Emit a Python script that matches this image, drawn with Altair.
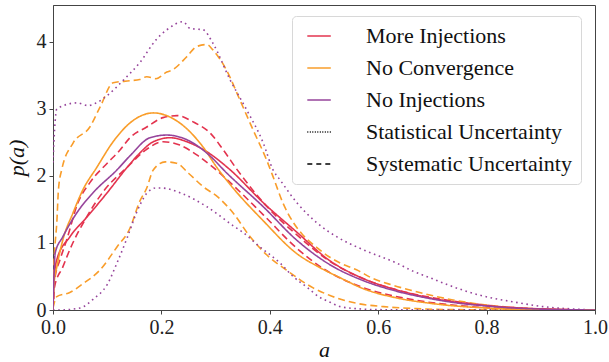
import altair as alt
import pandas as pd

RED = "#e3334e"
ORANGE = "#f99d2a"
PURPLE = "#96449b"

series_names = ["More Injections", "No Convergence", "No Injections"]
legend_keys = ["More Injections", "No Convergence", "No Injections",
               "Statistical Uncertainty", "Systematic Uncertainty"]

x_ticks = [0.0, 0.2, 0.4, 0.6, 0.8, 1.0]
y_ticks = [0, 1, 2, 3, 4]

# ---- More Injections ----
more_a = [0, 0.002, 0.007, 0.031, 0.063, 0.1, 0.137, 0.16, 0.185, 0.216, 0.247, 0.284,
          0.327, 0.388, 0.45, 0.51, 0.572, 0.634, 0.696, 0.75, 0.8, 0.85, 0.9, 0.95, 1.0]
more_p = [0, 0.45, 0.75, 1.09, 1.39, 1.75, 2.13, 2.34, 2.51, 2.57, 2.51, 2.36,
          2.09, 1.6, 1.16, 0.74, 0.47, 0.3, 0.18, 0.11, 0.065, 0.035, 0.015, 0.005, 0]

more_sys_hi_a = [0, 0.003, 0.013, 0.025, 0.046, 0.068, 0.1, 0.124, 0.142, 0.173, 0.203,
                 0.229, 0.26, 0.29, 0.314, 0.34, 0.395, 0.45, 0.51, 0.572, 0.634, 0.696,
                 0.75, 0.8, 0.85, 0.9, 0.95, 1.0]
more_sys_hi_p = [0, 0.45, 0.75, 1.04, 1.6, 1.9, 2.19, 2.39, 2.57, 2.73, 2.87,
                 2.9, 2.8, 2.64, 2.39, 2.09, 1.54, 1.12, 0.73, 0.47, 0.3, 0.19,
                 0.12, 0.07, 0.035, 0.015, 0.005, 0]

more_sys_lo_a = [0, 0.003, 0.018, 0.031, 0.063, 0.096, 0.137, 0.17, 0.203, 0.234, 0.266,
                 0.295, 0.327, 0.388, 0.45, 0.498, 0.524, 0.585, 0.646, 0.708, 0.75, 0.8,
                 0.85, 0.9, 0.95, 1.0]
more_sys_lo_p = [0, 0.35, 0.64, 0.9, 1.4, 1.8, 2.13, 2.38, 2.51, 2.46, 2.31,
                 2.13, 1.9, 1.42, 0.92, 0.62, 0.5, 0.3, 0.18, 0.1, 0.065, 0.035,
                 0.018, 0.007, 0.002, 0]

# ---- No Convergence ----
conv_a = [0, 0.002, 0.007, 0.018, 0.037, 0.055, 0.081, 0.11, 0.142, 0.185, 0.234, 0.277,
          0.302, 0.327, 0.388, 0.45, 0.493, 0.53, 0.572, 0.634, 0.696, 0.75, 0.8, 0.85,
          0.9, 1.0]
conv_p = [0, 0.4, 0.64, 1.04, 1.45, 1.79, 2.13, 2.5, 2.79, 2.94, 2.79, 2.43,
          2.13, 1.87, 1.33, 0.84, 0.63, 0.48, 0.32, 0.18, 0.1, 0.055, 0.03, 0.012,
          0.004, 0]

conv_sys_hi_a = [0, 0.004, 0.007, 0.01, 0.016, 0.037, 0.068, 0.087, 0.111, 0.142, 0.16,
                 0.173, 0.19, 0.21, 0.22, 0.247, 0.265, 0.284, 0.295, 0.32, 0.345, 0.369,
                 0.394, 0.406, 0.424, 0.443, 0.461, 0.487, 0.51, 0.53, 0.56, 0.59, 0.627,
                 0.653, 0.708, 0.738, 0.8, 0.86, 0.92, 1.0]
conv_sys_hi_p = [0.5, 1.0, 1.3, 1.79, 2.09, 2.49, 2.73, 3.03, 3.39, 3.42, 3.44,
                 3.48, 3.45, 3.55, 3.58, 3.78, 3.93, 3.96, 3.88, 3.58, 3.13, 2.69,
                 2.24, 1.99, 1.6, 1.31, 1.12, 0.93, 0.79, 0.7, 0.6, 0.47, 0.37,
                 0.31, 0.2, 0.15, 0.075, 0.03, 0.01, 0]

conv_sys_lo_a = [0, 0.007, 0.031, 0.055, 0.087, 0.118, 0.142, 0.16, 0.173, 0.185, 0.207,
                 0.228, 0.25, 0.277, 0.305, 0.332, 0.363, 0.4, 0.43, 0.456, 0.48, 0.51,
                 0.56, 0.61, 0.67, 0.75, 1.0]
conv_sys_lo_p = [0.03, 0.2, 0.26, 0.39, 0.6, 0.94, 1.22, 1.62, 1.82, 2.09, 2.21,
                 2.19, 2.04, 1.84, 1.68, 1.45, 1.1, 0.78, 0.6, 0.45, 0.33, 0.22,
                 0.1, 0.05, 0.02, 0.005, 0]

# ---- No Injections ----
noinj_a = [0, 0.002, 0.004, 0.018, 0.044, 0.074, 0.118, 0.142, 0.179, 0.21, 0.247, 0.284,
           0.321, 0.388, 0.45, 0.51, 0.572, 0.634, 0.696, 0.75, 0.8, 0.85, 0.9, 0.95, 1.0]
noinj_p = [0, 0.55, 0.85, 1.09, 1.45, 1.75, 2.09, 2.3, 2.57, 2.61, 2.54, 2.34,
           2.04, 1.54, 1.04, 0.68, 0.44, 0.28, 0.17, 0.1, 0.06, 0.03, 0.013, 0.004, 0]

noinj_stat_hi_a = [0, 0.003, 0.007, 0.044, 0.065, 0.08, 0.1, 0.13, 0.16, 0.19, 0.21,
                   0.24, 0.253, 0.277, 0.295, 0.327, 0.357, 0.388, 0.406, 0.419, 0.45,
                   0.487, 0.524, 0.572, 0.634, 0.664, 0.696, 0.727, 0.788, 0.85, 0.91,
                   0.96, 1.0]
noinj_stat_hi_p = [2.2, 2.7, 3.0, 3.09, 3.05, 3.09, 3.2, 3.43, 3.69, 4.03, 4.18,
                   4.3, 4.2, 4.18, 3.98, 3.43, 2.99, 2.49, 2.09, 1.94, 1.6,
                   1.3, 1.09, 0.9, 0.7, 0.58, 0.48, 0.38, 0.22, 0.12, 0.045,
                   0.015, 0]

noinj_stat_lo_a = [0, 0.013, 0.05, 0.074, 0.1, 0.118, 0.137, 0.155, 0.173, 0.19, 0.2,
                   0.234, 0.284, 0.332, 0.35, 0.382, 0.419, 0.443, 0.47, 0.49, 0.51,
                   0.53, 0.56, 0.6, 1.0]
noinj_stat_lo_p = [0, 0, 0.03, 0.16, 0.38, 0.7, 1.08, 1.47, 1.74, 1.82, 1.82,
                   1.75, 1.54, 1.26, 1.16, 0.94, 0.7, 0.5, 0.33, 0.2, 0.12,
                   0.05, 0.02, 0.005, 0]

curves = [
    ("more", "More Injections", "central", more_a, more_p),
    ("more_hi", "More Injections", "sys", more_sys_hi_a, more_sys_hi_p),
    ("more_lo", "More Injections", "sys", more_sys_lo_a, more_sys_lo_p),
    ("conv", "No Convergence", "central", conv_a, conv_p),
    ("conv_hi", "No Convergence", "sys", conv_sys_hi_a, conv_sys_hi_p),
    ("conv_lo", "No Convergence", "sys", conv_sys_lo_a, conv_sys_lo_p),
    ("noinj", "No Injections", "central", noinj_a, noinj_p),
    ("noinj_hi", "No Injections", "stat", noinj_stat_hi_a, noinj_stat_hi_p),
    ("noinj_lo", "No Injections", "stat", noinj_stat_lo_a, noinj_stat_lo_p),
]

rows = []
for cid, series, kind, av, pv in curves:
    for i, (a, p) in enumerate(zip(av, pv)):
        rows.append({"curve": cid, "series": series, "kind": kind, "a": a, "p": p, "i": i})
df = pd.DataFrame(rows)

FONT = "Liberation Serif"

x_enc = alt.X("a:Q", scale=alt.Scale(domain=[0, 1], nice=False),
              axis=alt.Axis(values=x_ticks, format=".1f", title="a", titleFontStyle="italic",
                            titleFontWeight="normal", titleFontSize=22, titlePadding=2,
                            labelFlush=False))
y_enc = alt.Y("p:Q", scale=alt.Scale(domain=[0, 4.55], nice=False),
              axis=alt.Axis(values=y_ticks, format="d", title="p(a)", titleFontStyle="italic",
                            titleFontWeight="normal", titleFontSize=22, titlePadding=8))

color_data = alt.Color("series:N", scale=alt.Scale(domain=series_names,
                                                   range=[RED, ORANGE, PURPLE]), legend=None)
dash_data = alt.StrokeDash("kind:N", scale=alt.Scale(domain=["central", "stat", "sys"],
                                                     range=[[1, 0], [1.6, 3.6], [7, 4]]),
                           legend=None)

bands = alt.Chart(df[df["kind"] != "central"]).mark_line(
    strokeWidth=1.6, clip=True, interpolate="monotone").encode(
    x=x_enc, y=y_enc, color=color_data, strokeDash=dash_data, detail="curve:N", order="i:Q")

central = alt.Chart(df[df["kind"] == "central"]).mark_line(
    strokeWidth=1.6, clip=True, interpolate="monotone").encode(
    x=x_enc, y=y_enc, color=color_data, strokeDash=dash_data, detail="curve:N", order="i:Q")

leg = alt.Legend(title=None, orient="none", legendX=239, legendY=11,
                 labelFont=FONT, labelFontSize=22, labelColor="#111", labelLimit=0,
                 symbolType="M-0.8,0H3.2", symbolSize=138, symbolStrokeWidth=1.5,
                 labelOffset=43, rowPadding=10, padding=9,
                 fillColor="white", strokeColor="#d8d8d8", cornerRadius=4)

legend_layer = alt.Chart(alt.Data(values=[{"key": k} for k in legend_keys])).mark_line(
    strokeWidth=1.5).encode(
    x="a:Q", y="p:Q",
    color=alt.Color("key:N", scale=alt.Scale(domain=legend_keys,
                                             range=[RED, ORANGE, PURPLE, "black", "black"]),
                    legend=leg),
    strokeDash=alt.StrokeDash("key:N", scale=alt.Scale(domain=legend_keys,
                                                       range=[[1, 0], [1, 0], [1, 0], [1, 1.5], [5, 4]]),
                              legend=leg),
)

chart = alt.layer(bands, central, legend_layer).resolve_scale(
    color="independent", strokeDash="independent"
).properties(
    width=542, height=305,
    autosize=alt.AutoSizeParams(type="none"),
    padding={"left": 53, "top": 5, "right": 14, "bottom": 52},
).configure_view(
    stroke="#444", strokeWidth=1
).configure_axis(
    labelFont=FONT, titleFont=FONT, labelFontSize=20, labelColor="#222", titleColor="#111",
    domainColor="#444", tickColor="#444", tickSize=4, labelPadding=3, grid=False
)

chart.save("out.html", embed_options={"renderer": "svg", "actions": False})
